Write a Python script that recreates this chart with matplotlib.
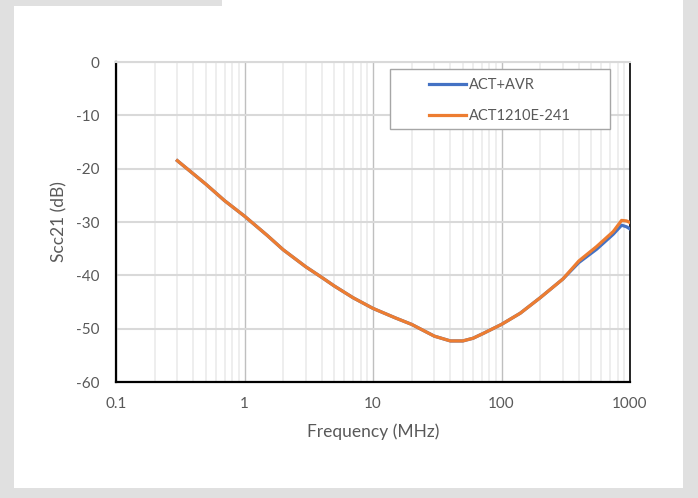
import matplotlib
matplotlib.use('Agg')
import matplotlib.pyplot as plt
from matplotlib.patches import Rectangle
from matplotlib.ticker import LogLocator, NullFormatter

# values
freq_mhz = [0.3, 0.5, 0.7, 1, 1.5, 2, 3, 4, 5, 7, 10, 15, 20, 30, 40, 50, 60, 72, 100, 140,
            200, 300, 400, 550, 740, 860, 940, 1000]
act1210 = [-18.5, -22.9, -26.0, -28.9, -32.5, -35.2, -38.4, -40.4, -42.0, -44.2, -46.2, -48.0,
           -49.2, -51.4, -52.3, -52.3, -51.8, -50.9, -49.2, -47.1, -44.2, -40.7, -37.3, -34.6,
           -31.8, -29.7, -29.8, -30.1]
act_avr = [-18.5, -22.9, -26.0, -28.9, -32.5, -35.2, -38.4, -40.4, -42.0, -44.2, -46.2, -48.0,
           -49.2, -51.4, -52.3, -52.3, -51.8, -50.9, -49.2, -47.1, -44.2, -40.7, -37.6, -35.1,
           -32.3, -30.6, -30.9, -31.3]
x_ticks = [0.1, 1, 10, 100, 1000]
x_tick_labels = ['0.1', '1', '10', '100', '1000']
y_ticks = [0, -10, -20, -30, -40, -50, -60]

plt.rcParams['font.family'] = ['Lato', 'DejaVu Sans']
plt.rcParams['axes.unicode_minus'] = False
text_col = '#595959'

fig = plt.figure(figsize=(6.98, 4.98), dpi=100)
fig.patch.set_facecolor('#e0e0e0')
# white panels (chart area of the screenshot)
fig.patches.append(Rectangle((14 / 698, 10 / 498), (683 - 14) / 698, (492 - 10) / 498,
                             transform=fig.transFigure, facecolor='white', edgecolor='none', zorder=-10))
fig.patches.append(Rectangle((222 / 698, 480 / 498), (683 - 222) / 698, 18 / 498,
                             transform=fig.transFigure, facecolor='white', edgecolor='none', zorder=-10))

ax = fig.add_axes([116 / 698, 116 / 498, (630 - 116) / 698, (382 - 62) / 498])
ax.set_facecolor('white')

ax.plot(freq_mhz, act_avr, color='#4472C4', lw=2.3, label='ACT+AVR', zorder=3,
        solid_joinstyle='round')
ax.plot(freq_mhz, act1210, color='#ED7D31', lw=2.3, label='ACT1210E-241', zorder=4,
        solid_joinstyle='round')

ax.set_xscale('log')
ax.set_xlim(0.1, 1000)
ax.set_ylim(-60, 0)
ax.set_xticks(x_ticks)
ax.set_xticklabels(x_tick_labels)
ax.xaxis.set_minor_locator(LogLocator(base=10, subs=range(2, 10)))
ax.xaxis.set_minor_formatter(NullFormatter())
ax.set_yticks(y_ticks)

ax.grid(True, which='major', axis='x', color='#bfbfbf', lw=1.0)
ax.grid(True, which='minor', axis='x', color='#ebebeb', lw=1.2)
ax.grid(True, which='major', axis='y', color='#d9d9d9', lw=1.5)
ax.set_axisbelow(True)

ax.tick_params(which='both', length=0, labelsize=11, labelcolor=text_col)
ax.tick_params(axis='x', pad=11)
ax.tick_params(axis='y', pad=12)

for side in ['left', 'bottom']:
    ax.spines[side].set_color('black')
    ax.spines[side].set_linewidth(1.6)
ax.spines['right'].set_color('black')
ax.spines['right'].set_linewidth(1.2)
ax.spines['top'].set_color('#d9d9d9')
ax.spines['top'].set_linewidth(1.5)

ax.set_xlabel('Frequency (MHz)', fontsize=12.5, color=text_col, labelpad=9)
ax.set_ylabel('Scc21 (dB)', fontsize=12.5, color=text_col, labelpad=6)

# legend box drawn separately, wider than its content like the Excel original
ax.add_patch(Rectangle((274 / 514, 1 - 67 / 320), 220 / 514, 60 / 320, transform=ax.transAxes,
                       facecolor='white', edgecolor='#a6a6a6', lw=1.0, zorder=5))
leg = ax.legend(loc='upper left', bbox_to_anchor=(313 / 514, 1 - 16 / 320), fontsize=10.5,
                frameon=False, handlelength=2.55, handletextpad=0.2,
                labelspacing=1.2, borderpad=0, borderaxespad=0)
leg.set_zorder(6)
for t in leg.get_texts():
    t.set_color(text_col)

fig.savefig('out.png', dpi=100, facecolor=fig.get_facecolor())
